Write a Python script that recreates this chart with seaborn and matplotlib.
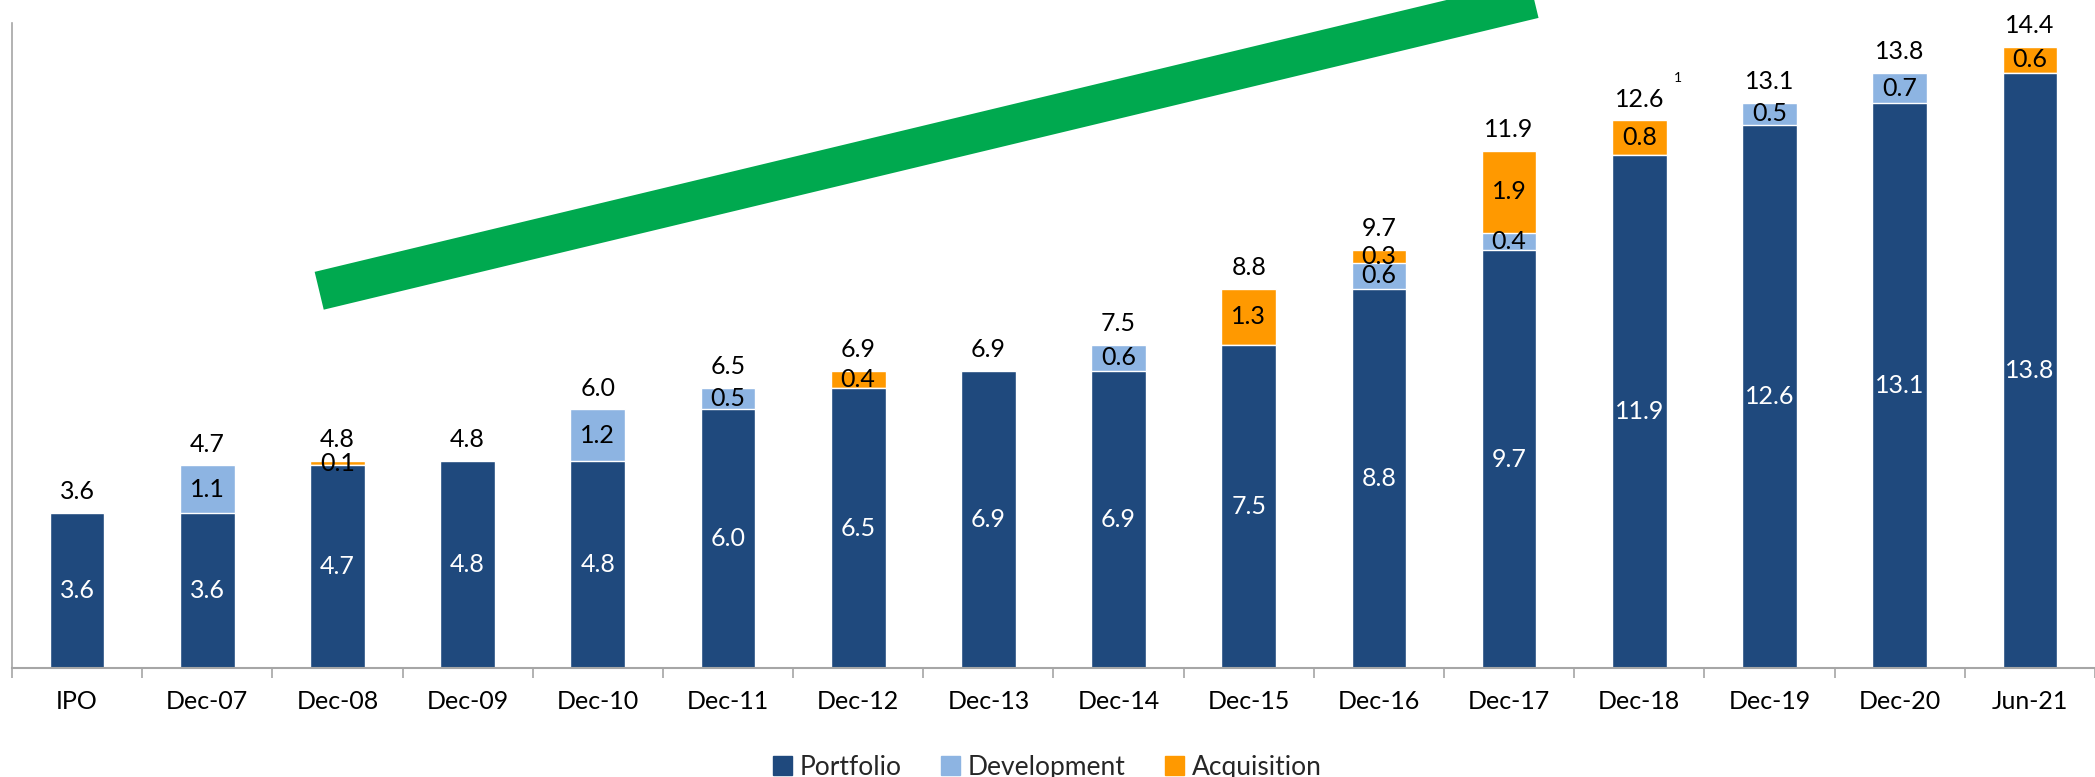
import numpy as np
import pandas as pd
import seaborn as sns
import matplotlib.pyplot as plt
from matplotlib.patches import Patch

# values
periods = ['IPO', 'Dec-07', 'Dec-08', 'Dec-09', 'Dec-10', 'Dec-11', 'Dec-12', 'Dec-13',
           'Dec-14', 'Dec-15', 'Dec-16', 'Dec-17', 'Dec-18', 'Dec-19', 'Dec-20', 'Jun-21']
portfolio = [3.6, 3.6, 4.7, 4.8, 4.8, 6.0, 6.5, 6.9, 6.9, 7.5, 8.8, 9.7, 11.9, 12.6, 13.1, 13.8]
development = [0, 1.1, 0, 0, 1.2, 0.5, 0, 0, 0.6, 0, 0.6, 0.4, 0, 0.5, 0.7, 0]
acquisition = [0, 0, 0.1, 0, 0, 0, 0.4, 0, 0, 1.3, 0.3, 1.9, 0.8, 0, 0, 0.6]
total_labels = ['3.6', '4.7', '4.8', '4.8', '6.0', '6.5', '6.9', '6.9',
                '7.5', '8.8', '9.7', '11.9', '12.6', '13.1', '13.8', '14.4']

navy = '#1F497D'
light = '#8DB4E2'
orange = '#FF9900'
green = '#00A94F'
grey = '#A6A6A6'

sns.set_theme(style='white')
plt.rcParams['font.family'] = ['Lato', 'DejaVu Sans']

df = pd.DataFrame({'period': periods, 'portfolio': portfolio,
                   'development': development, 'acquisition': acquisition})
df['lvl2'] = df['portfolio'] + df['development']
df['lvl3'] = df['lvl2'] + df['acquisition']

fig = plt.figure(figsize=(20.95, 7.77), dpi=100)
ax = fig.add_axes([0.0057, 0.14, 0.9943, 0.83])

# stacked by overlaying cumulative heights, tallest first
sns.barplot(data=df, x='period', y='lvl3', color=orange, width=0.42, saturation=1, ax=ax)
sns.barplot(data=df, x='period', y='lvl2', color=light, width=0.42, saturation=1, ax=ax)
sns.barplot(data=df, x='period', y='portfolio', color=navy, width=0.42, saturation=1, ax=ax)

ax.set_xlim(-0.5, 15.5)
ax.set_ylim(0, 14.95)
ax.set_xlabel('')
ax.set_ylabel('')
ax.set_yticks([])

# labels
for i in range(len(periods)):
    p, d, a = portfolio[i], development[i], acquisition[i]
    ax.text(i, p / 2, f'{p:.1f}', ha='center', va='center', color='white', fontsize=18)
    if d > 0:
        ax.text(i, p + d / 2, f'{d:.1f}', ha='center', va='center', color='black', fontsize=18)
    if a > 0:
        ax.text(i, p + d + a / 2, f'{a:.1f}', ha='center', va='center', color='black', fontsize=18)
    ax.annotate(total_labels[i], (i, p + d + a), xytext=(0, 7), textcoords='offset points',
                ha='center', va='bottom', fontsize=18, color='black', annotation_clip=False)
ax.annotate('1', (12, df['lvl3'][12]), xytext=(25, 26), textcoords='offset points',
            ha='left', va='bottom', fontsize=10, color='black', annotation_clip=False)

# growth arrow
ax.plot([1.86, 12.0], [8.75, 16.1], color=green, lw=28, solid_capstyle='butt', clip_on=False,
        zorder=5)

# axes styling
for s in ['top', 'right']:
    ax.spines[s].set_visible(False)
ax.spines['left'].set_color(grey)
ax.spines['bottom'].set_color(grey)
ax.spines['left'].set_linewidth(1.2)
ax.spines['bottom'].set_linewidth(1.5)
ax.set_xticks(np.arange(-0.5, 16, 1), minor=True)
ax.tick_params(axis='x', which='major', length=0, labelsize=18, pad=16, colors='black')
ax.tick_params(axis='x', which='minor', length=7, color=grey, width=1.2, direction='out')
ax.tick_params(axis='x', which='both', bottom=True)

handles = [Patch(color=navy, label='Portfolio'),
           Patch(color=light, label='Development'),
           Patch(color=orange, label='Acquisition')]
fig.legend(handles=handles, loc='lower center', bbox_to_anchor=(0.5, -0.034), ncol=3,
           frameon=False, fontsize=19, handlelength=0.7, handleheight=0.7,
           handletextpad=0.3, columnspacing=1.5)

fig.savefig('out.png', dpi=100)
